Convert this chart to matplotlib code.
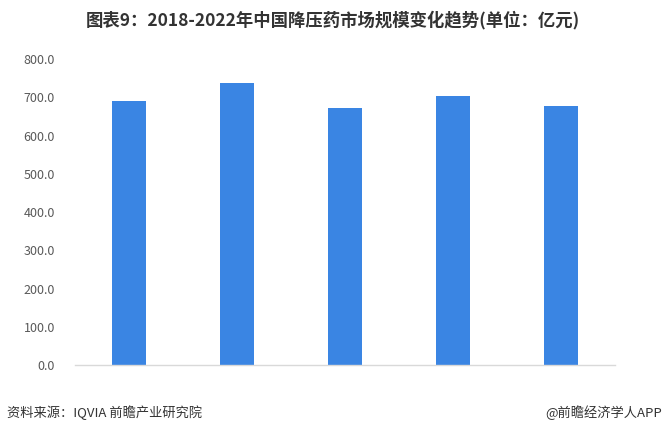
import matplotlib
matplotlib.use("Agg")
import matplotlib.pyplot as plt

plt.rcParams['font.family'] = ['Noto Sans CJK SC', 'DejaVu Sans']

years = ["2018", "2019", "2020", "2021", "2022"]
market_size = [690, 738, 672, 704, 678]
yticks = [0, 100, 200, 300, 400, 500, 600, 700, 800]

fig = plt.figure(figsize=(6.65, 4.36), dpi=100)
ax = fig.add_axes([75/665, 1-365/436, 540/665, (365-59)/436])

x = list(range(len(years)))
ax.bar(x, market_size, width=0.315, color="#3a85e3")
ax.set_xlim(-0.5, len(years)-0.5)
ax.set_ylim(0, 800)
ax.set_yticks(yticks)
ax.set_yticklabels([f"{v:.1f}" for v in yticks], fontsize=9, color="#595959")
ax.set_xticks(x)
ax.set_xticklabels(years)
ax.tick_params(axis='x', bottom=False, labelbottom=False)
ax.tick_params(axis='y', left=False, pad=11)
for s in ["top", "right", "left"]:
    ax.spines[s].set_visible(False)
ax.spines["bottom"].set_color("#d9d9d9")
ax.spines["bottom"].set_linewidth(1)

fig.text(333/665, 1-20/436, "图表9：2018-2022年中国降压药市场规模变化趋势(单位：亿元)",
         ha="center", va="center", fontsize=12.5, fontweight="bold", color="#333333")
fig.text(7/665, 1-413/436, "资料来源：IQVIA 前瞻产业研究院", ha="left", va="center",
         fontsize=9.5, color="#333333")
fig.text(662/665, 1-413/436, "@前瞻经济学人APP", ha="right", va="center",
         fontsize=9.5, color="#333333")

fig.savefig("out.png", dpi=100)
